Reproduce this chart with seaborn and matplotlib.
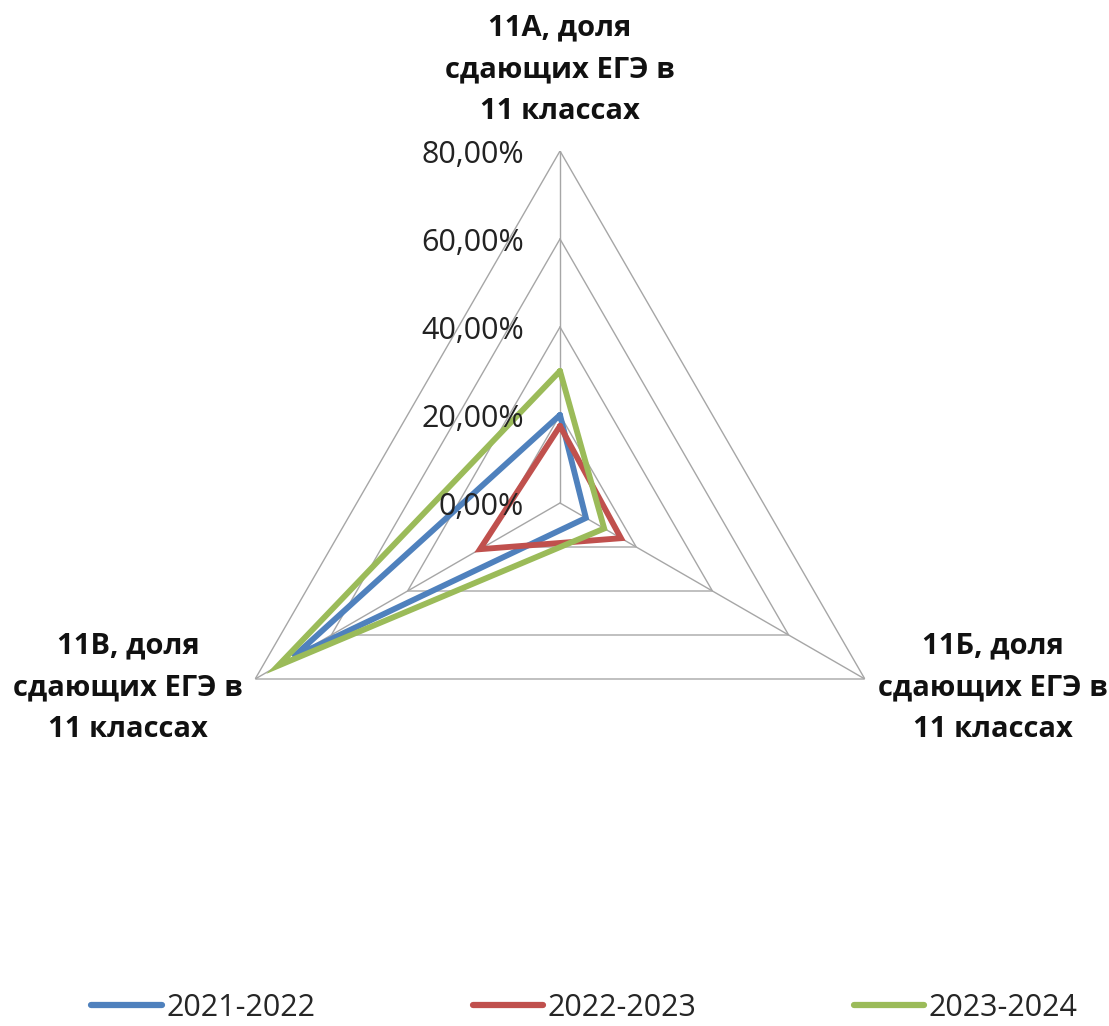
import numpy as np
import pandas as pd
import matplotlib
matplotlib.use("Agg")
import matplotlib.pyplot as plt
import seaborn as sns
from matplotlib.lines import Line2D

categories = ["11А, доля\nсдающих ЕГЭ в\n11 классах",
              "11Б, доля\nсдающих ЕГЭ в\n11 классах",
              "11В, доля\nсдающих ЕГЭ в\n11 классах"]
years = ["2021-2022", "2022-2023", "2023-2024"]
vals_2021 = [20.0, 6.8, 70.0]
vals_2022 = [17.5, 16.0, 21.0]
vals_2023 = [30.0, 11.6, 74.0]
rings = [0, 20, 40, 60, 80]
ring_labels = ["0,00%", "20,00%", "40,00%", "60,00%", "80,00%"]
colors = ["#4f81bd", "#c0504d", "#9bbb59"]

sns.set_theme(style="white")
plt.rcParams['font.family'] = ['Open Sans', 'DejaVu Sans']

W, H = 1109, 1026
fig = plt.figure(figsize=(W / 100, H / 100), dpi=100)
cx, cy, R = 560, 503, 352
ax = fig.add_axes([(cx - R) / W, 1 - (cy + R) / H, 2 * R / W, 2 * R / H], projection="polar")
ax.set_theta_offset(np.pi / 2)
ax.set_theta_direction(-1)
ax.set_ylim(0, 80)
ax.grid(False)
ax.spines["polar"].set_visible(False)
ax.set_xticks([])
ax.set_yticks([])
ax.patch.set_alpha(0)

n = len(categories)
angles = [2 * np.pi * i / n for i in range(n)]
closed = angles + [2 * np.pi]

grid_c = "#a6a6a6"
for r in rings[1:]:
    ax.plot(closed, [r] * (n + 1), color=grid_c, lw=1.0, zorder=1)
for a in angles:
    ax.plot([a, a], [0, rings[-1]], color=grid_c, lw=1.0, zorder=1)

rows = []
for yr, vals in zip(years, [vals_2021, vals_2022, vals_2023]):
    vv = vals + vals[:1]
    for i, (a, v) in enumerate(zip(closed, vv)):
        rows.append({"year": yr, "theta": a, "r": v, "order": i})
df = pd.DataFrame(rows)
for yr, c in zip(years, colors):
    sub = df[df.year == yr]
    sns.lineplot(data=sub, x="theta", y="r", sort=False, estimator=None, color=c, lw=4.2,
                 ax=ax, legend=False, zorder=3, solid_joinstyle="miter")
ax.set_xlabel("")
ax.set_ylabel("")
ax.set_ylim(0, 80)

for r, lab in zip(rings, ring_labels):
    ax.annotate(lab, xy=(0, r), xytext=(-36, -4), textcoords="offset pixels",
                ha="right", va="center", fontsize=22, color="#222222")

offsets = [(0, 81), (128, -9), (-127, -9)]
for a, lab, off in zip(angles, categories, offsets):
    ax.annotate(lab, xy=(a, rings[-1]), xytext=off, textcoords="offset pixels",
                ha="center", va="center", fontsize=21, fontweight="bold",
                linespacing=1.58, color="#111111", annotation_clip=False)

handles = [Line2D([0], [0], color=c, lw=4.5, solid_capstyle="round") for c in colors]
fig.legend(handles, years, loc="lower center", bbox_to_anchor=(0.527, -0.024), ncol=3,
           frameon=False, fontsize=22, handlelength=2.3, handletextpad=0.15,
           columnspacing=5.15)

fig.savefig("out.png", dpi=100)
